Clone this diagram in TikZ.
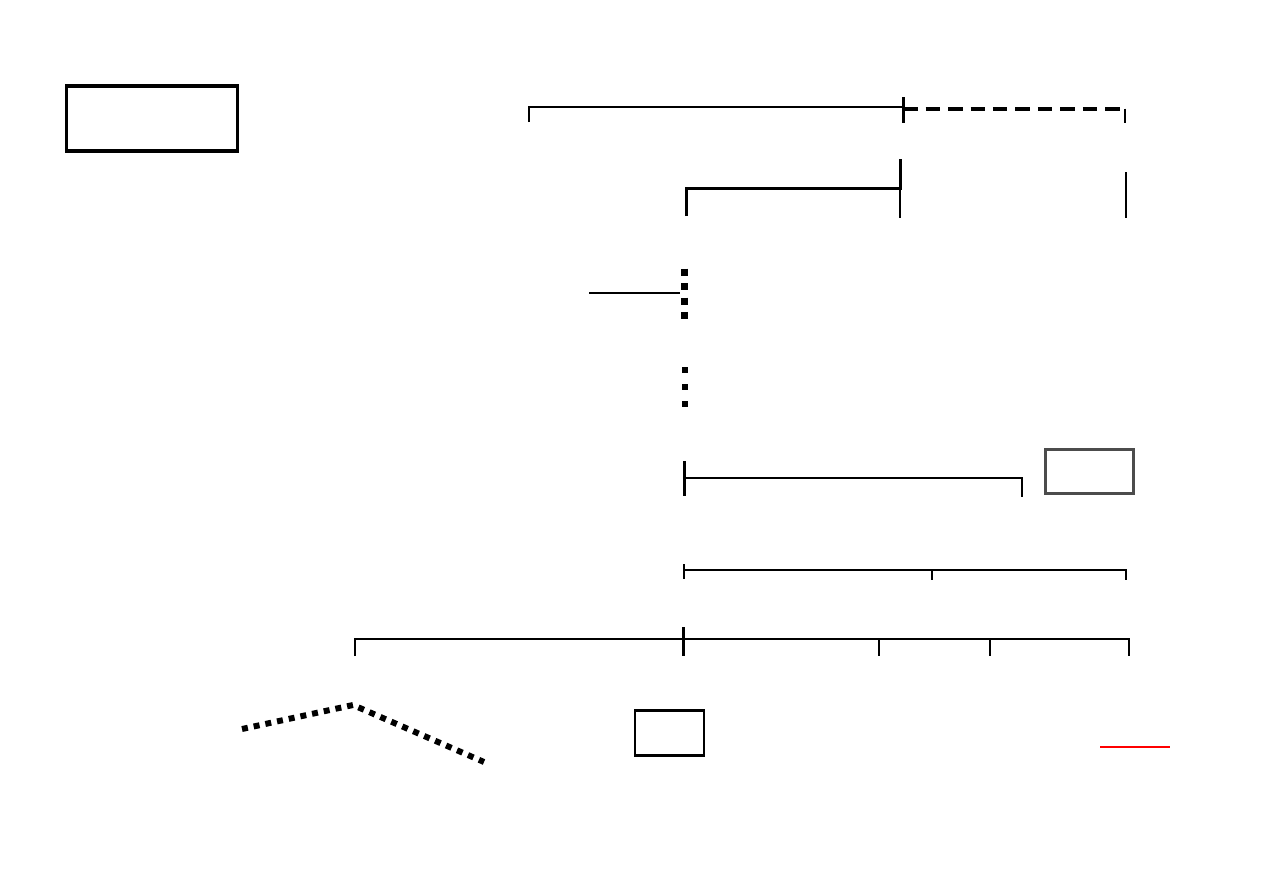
\documentclass[tikz,border=0pt]{standalone}
\usetikzlibrary{positioning}

\begin{document}
\begin{tikzpicture}[
    x=0.02cm,
    y=-0.02cm,
    thin line/.style={line width=0.7pt},
    thick line/.style={line width=1.7pt},
    frame/.style={rectangle, draw, inner sep=0pt},
    square dots/.style={line width=3.4pt, dash pattern=on 3.4pt off 3.4pt},
]
    \useasboundingbox (0,0) rectangle (1263,893);

    \node[frame, line width=1.8pt, minimum width=3.42cm, minimum height=1.3cm] (legend) at (152,118.5) {};
    \node[frame, draw=black!70, line width=1.2pt, minimum width=1.76cm, minimum height=0.88cm] (note) at (1089.5,471.5) {};
    \node[frame, line width=1.3pt, minimum width=1.38cm, minimum height=0.9cm] (key) at (669.5,733) {};

    % top span
    \draw[thin line] (529,122) -- (529,107) -- (903,107);
    \draw[thick line] (903,97) -- (903,123);
    \draw[line width=1.8pt, dash pattern=on 0.29cm off 0.16cm] (903,109) -- (1125,109);
    \draw[line width=1.3pt] (1125,108.5) -- (1125,123);

    \draw[thick line] (686,216) -- (686,188) -- (900,188) -- (900,159);
    \draw[thin line] (900,188) -- (900,218);
    \draw[thin line] (1126,172) -- (1126,218);

    \draw[thin line] (589,293) -- (680,293);
    \draw[line width=0.14cm, dash pattern=on 0.14cm off 0.15cm] (684,268.5) -- (684,320);
    \draw[line width=0.12cm, dash pattern=on 0.12cm off 0.22cm] (685,367) -- (685,410);

    \draw[thick line] (684,461) -- (684,496);
    \draw[thin line] (684,478) -- (1022,478) -- (1022,497);

    \draw[thin line] (684,570) -- (1126,570) -- (1126,580);
    \draw[line width=1.2pt] (684,564) -- (684,579);
    \draw[thin line] (932,570) -- (932,580);

    \draw[thin line] (355,656) -- (355,639) -- (1129,639) -- (1129,656);
    \draw[thick line] (683,627) -- (683,656);
    \foreach \tx in {879,990}
        \draw[thin line] (\tx,639) -- (\tx,656);

    \draw[square dots] (242,729) -- (353,705) -- (484,762);

    \draw[red, line width=0.8pt] (1100,747) -- (1170,747);
\end{tikzpicture}
\end{document}
